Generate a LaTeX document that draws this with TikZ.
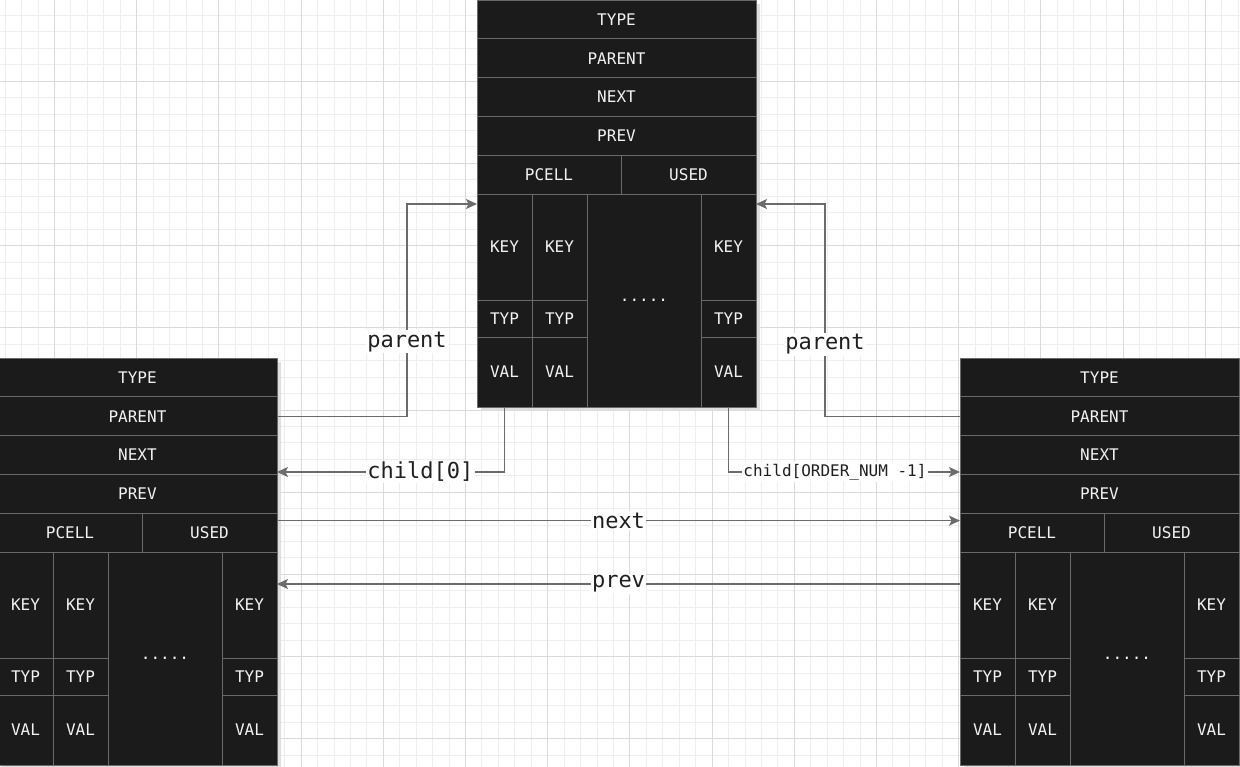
\documentclass[tikz,border=0pt]{standalone}
\usepackage{fontspec}
\usepackage{tikz}
\usetikzlibrary{arrows.meta,positioning}
\newfontfamily\monofont{DejaVu Sans Mono}

\definecolor{cellbg}{HTML}{1B1B1B}
\definecolor{celledge}{HTML}{6A6A6A}
\definecolor{celltext}{HTML}{F2F2F2}
\definecolor{linkgray}{HTML}{6B6B6B}
\definecolor{gridminor}{HTML}{EEEEEE}
\definecolor{gridmajor}{HTML}{DADADA}

\tikzset{
  cell/.style={draw=celledge,fill=cellbg,text=celltext,line width=1pt,
    inner sep=0pt,outer sep=0pt,font=\monofont\fontsize{16}{18}\selectfont},
  row/.style={cell,minimum width=279pt,minimum height=38.8pt},
  keycell/.style={cell,minimum width=55pt,minimum height=106pt},
  typcell/.style={cell,minimum width=55pt,minimum height=37pt},
  valcell/.style={cell,minimum width=55pt,minimum height=70pt},
  link/.style={draw=linkgray,line width=1.3pt,
    -{Stealth[length=11pt,width=10pt,inset=2.5pt]}},
  lbl/.style={fill=white,inner sep=1.5pt,text=black!88,
    font=\monofont\fontsize{22}{24}\selectfont},
  smalllbl/.style={lbl,font=\monofont\fontsize{16}{18}\selectfont}
}

% one b-tree node, top left corner at (#2,#3)
\newcommand{\bnode}[3]{%
  \fill[black!13] ({#2+4},{#3+4}) rectangle ({#2+283},{#3+411});
  \node[row,anchor=north west] (#1-type) at (#2,#3) {TYPE};
  \node[row,below=0pt of #1-type] (#1-parent) {PARENT};
  \node[row,below=0pt of #1-parent] (#1-next) {NEXT};
  \node[row,below=0pt of #1-next] (#1-prev) {PREV};
  \node[cell,minimum width=144pt,minimum height=38.8pt,anchor=north west]
    (#1-pcell) at (#1-prev.south west) {PCELL};
  \node[cell,minimum width=135pt,minimum height=38.8pt,right=0pt of #1-pcell]
    (#1-used) {USED};
  \node[keycell,anchor=north west] (#1-k1) at (#1-pcell.south west) {KEY};
  \node[keycell,right=0pt of #1-k1] (#1-k2) {KEY};
  \node[cell,minimum width=114pt,minimum height=213pt,anchor=north west]
    (#1-dots) at (#1-k2.north east) {.....};
  \node[keycell,anchor=north west] (#1-k3) at (#1-dots.north east) {KEY};
  \node[typcell,below=0pt of #1-k1] (#1-t1) {TYP};
  \node[typcell,below=0pt of #1-k2] (#1-t2) {TYP};
  \node[typcell,below=0pt of #1-k3] (#1-t3) {TYP};
  \node[valcell,below=0pt of #1-t1] (#1-v1) {VAL};
  \node[valcell,below=0pt of #1-t2] (#1-v2) {VAL};
  \node[valcell,below=0pt of #1-t3] (#1-v3) {VAL};
}

\begin{document}
\begin{tikzpicture}[x=1pt,y=-1pt]
\useasboundingbox (0,0) rectangle (1240,766);
\fill[white] (0,0) rectangle (1240,766);

% grid
\foreach \i in {0,...,75}
  \draw[gridminor,line width=0.8pt] ({5.1+16.44*\i},-5) -- ({5.1+16.44*\i},771);
\foreach \j in {0,...,47}
  \draw[gridminor,line width=0.8pt] (-5,{-1.1+16.44*\j}) -- (1245,{-1.1+16.44*\j});
\foreach \i in {0,...,14}
  \draw[gridmajor,line width=0.8pt] ({54.4+82.2*\i},-5) -- ({54.4+82.2*\i},771);
\foreach \j in {0,...,9}
  \draw[gridmajor,line width=0.8pt] (-5,{-1.1+82.2*\j}) -- (1245,{-1.1+82.2*\j});

\bnode{T}{477}{0}
\bnode{L}{-2}{358}
\bnode{R}{960}{358}

\draw[link] (L-parent.east) -- ++(130,0) |- ([yshift=-10pt]T-k1.north west)
  node[lbl,pos=0.175] (lpar) {parent};
\draw[link] (R-parent.west) -- ++(-135,0) |- ([yshift=-10pt]T-k3.north east)
  node[lbl,pos=0.17] (rpar) {parent};
\draw[link] (T-v1.south) |- ([yshift=-17pt]L-next.east)
  node[lbl,pos=0.685] (lchild) {child[0]};
\draw[link] (T-v3.south) |- ([yshift=-17pt]R-next.west)
  node[smalllbl,pos=0.73] (rchild) {child[ORDER\_NUM -1]};
\draw[link] ([yshift=12pt]L-used.east) -- ([yshift=12pt]R-pcell.west)
  node[lbl,midway] (nxt) {next};
\draw[link] ([yshift=-32pt]R-k1.north west) -- ([yshift=-32pt]L-k3.north east)
  node[lbl,midway] (prv) {prev};
\end{tikzpicture}
\end{document}
